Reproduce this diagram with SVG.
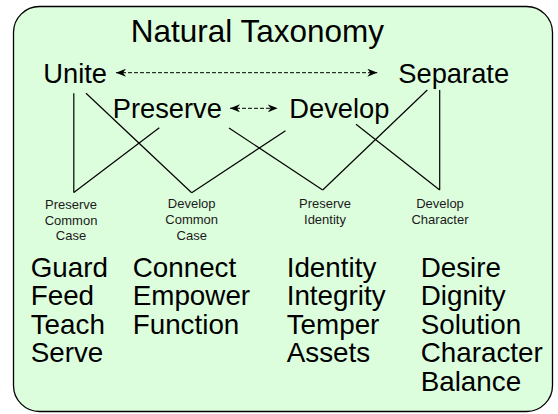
<svg xmlns="http://www.w3.org/2000/svg" width="558" height="414" viewBox="0 0 558 414">
  <defs>
    <marker id="ah" viewBox="0 0 10 8" refX="10" refY="4" markerWidth="10" markerHeight="8" markerUnits="userSpaceOnUse" orient="auto-start-reverse">
      <path d="M0,0 L10,4 L0,8 L3,4 Z" fill="#000"/>
    </marker>
    <style>
      .t { font-family: "Liberation Sans", Arial, sans-serif; fill: #000; }
      .title { font-size: 31.5px; }
      .main { font-size: 27.3px; }
      .small { font-size: 13px; text-anchor: middle; fill: #1a1a1a; }
      .word { font-size: 27.8px; }
      .ln { stroke: #000; stroke-width: 1.2; fill: none; }
      .dash { stroke: #000; stroke-width: 1; stroke-dasharray: 4 2; fill: none; }
    </style>
  </defs>
  <rect x="13.5" y="6.5" width="539" height="405" rx="26" ry="26" fill="#ddfedd" stroke="#000" stroke-width="1.3"/>

  <g id="title"><text class="t title" x="130.7" y="42.3">Natural Taxonomy</text></g>
  <g id="unite"><text class="t main" x="43.3" y="83.3">Unite</text></g>
  <g id="separate"><text class="t main" x="398.3" y="83.3">Separate</text></g>
  <g id="preserve"><text class="t main" x="112.7" y="118.3">Preserve</text></g>
  <g id="develop"><text class="t main" x="289.3" y="117.8">Develop</text></g>

  <g id="preserve-common-case"><text class="t small"><tspan x="71" y="209">Preserve</tspan><tspan x="71" y="224.8">Common</tspan><tspan x="71" y="240.3">Case</tspan></text></g>
  <g id="develop-common-case"><text class="t small"><tspan x="191.7" y="208.3">Develop</tspan><tspan x="191.7" y="224">Common</tspan><tspan x="191.7" y="239.6">Case</tspan></text></g>
  <g id="preserve-identity"><text class="t small"><tspan x="325" y="208.3">Preserve</tspan><tspan x="325" y="224">Identity</tspan></text></g>
  <g id="develop-character"><text class="t small"><tspan x="440" y="208.3">Develop</tspan><tspan x="440" y="224">Character</tspan></text></g>

  <g id="col-preserve-common-case"><text class="t word"><tspan x="30.7" y="276.7">Guard</tspan><tspan x="30.7" y="305.2">Feed</tspan><tspan x="30.7" y="333.7">Teach</tspan><tspan x="30.7" y="362.2">Serve</tspan></text></g>
  <g id="col-develop-common-case"><text class="t word"><tspan x="132.7" y="276.7">Connect</tspan><tspan x="132.7" y="305.2">Empower</tspan><tspan x="132.7" y="333.7">Function</tspan></text></g>
  <g id="col-preserve-identity"><text class="t word"><tspan x="286.7" y="276.7">Identity</tspan><tspan x="286.7" y="305.2">Integrity</tspan><tspan x="286.7" y="333.7">Temper</tspan><tspan x="286.7" y="362.2">Assets</tspan></text></g>
  <g id="col-develop-character"><text class="t word"><tspan x="420.7" y="276.7">Desire</tspan><tspan x="420.7" y="305.2">Dignity</tspan><tspan x="420.7" y="333.7">Solution</tspan><tspan x="420.7" y="362.2">Character</tspan><tspan x="420.7" y="390.7">Balance</tspan></text></g>

  <g id="connectors">
    <line class="dash" x1="116" y1="72.7" x2="377.3" y2="72.7" marker-start="url(#ah)" marker-end="url(#ah)"/>
    <line class="dash" x1="230" y1="108.3" x2="277.7" y2="108.3" marker-start="url(#ah)" marker-end="url(#ah)"/>
    <line class="ln" x1="73.8" y1="93.3" x2="73.8" y2="192.5"/>
    <line class="ln" x1="86" y1="93.3" x2="191.7" y2="192.7"/>
    <line class="ln" x1="159.3" y1="127.7" x2="73.8" y2="192.5"/>
    <line class="ln" x1="229" y1="128" x2="322.7" y2="190"/>
    <line class="ln" x1="285.5" y1="130.7" x2="191.7" y2="192.7"/>
    <line class="ln" x1="356" y1="124.3" x2="439.7" y2="190"/>
    <line class="ln" x1="427.3" y1="90" x2="322.7" y2="190"/>
    <line class="ln" x1="439.7" y1="90" x2="439.7" y2="190"/>
  </g>
</svg>
